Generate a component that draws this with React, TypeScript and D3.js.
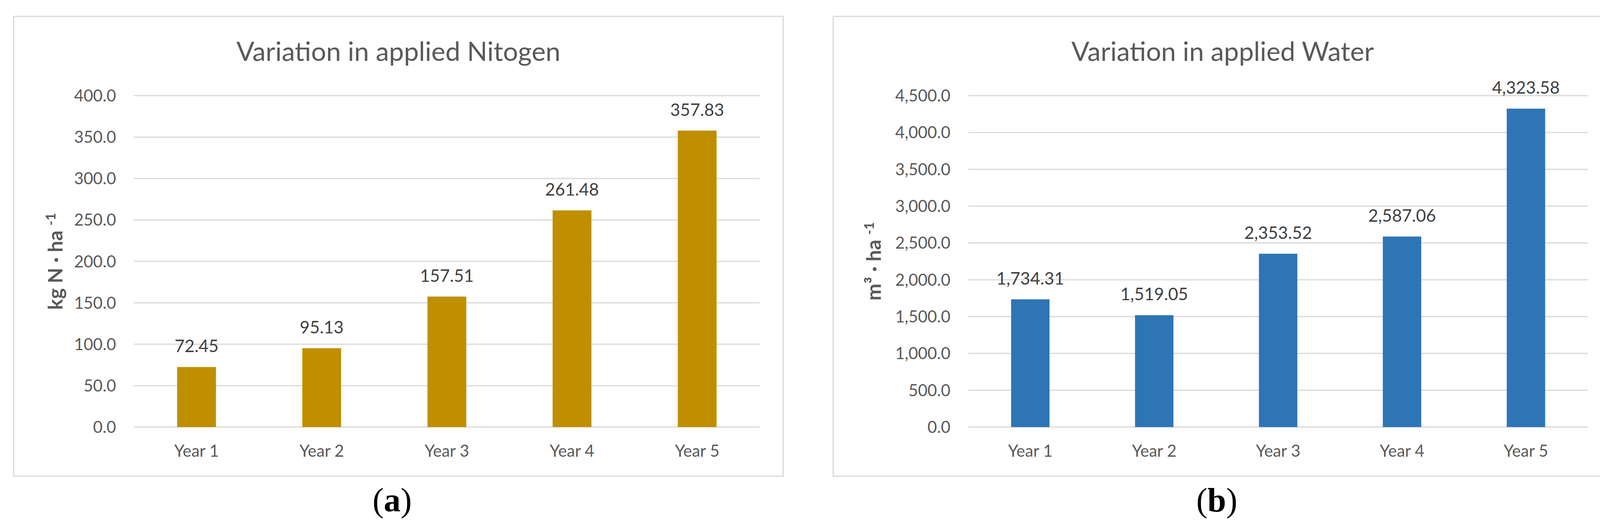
import { useEffect, useRef } from "react";
import * as d3 from "d3";

const W = 4168;
const H = 1350;

const years = ["Year 1", "Year 2", "Year 3", "Year 4", "Year 5"];
const nitrogen = [72.45, 95.13, 157.51, 261.48, 357.83];
const water = [1734.31, 1519.05, 2353.52, 2587.06, 4323.58];
const nitrogenTicks = [0, 50, 100, 150, 200, 250, 300, 350, 400];
const waterTicks = [0, 500, 1000, 1500, 2000, 2500, 3000, 3500, 4000, 4500];

const TEXT = "#595959";
const GRID = "#D9D9D9";
const FONT = "Lato, 'Open Sans', sans-serif";
const SERIF = "'Liberation Serif', 'DejaVu Serif', serif";

interface Panel {
  frame: [number, number];
  plot: [number, number];
  title: string;
  unit: string;
  values: number[];
  ticks: number[];
  color: string;
  tickFmt: (n: number) => string;
  valueFmt: (n: number) => string;
  yTitleX: number;
  caption: string;
  captionX: number;
}

const TOP = 42;
const BOTTOM = 1220;
const PLOT_TOP = 245;
const PLOT_BOTTOM = 1094;

const panels: Panel[] = [
  {
    frame: [35, 2005],
    plot: [343, 1945],
    title: "Variation in applied Nitogen",
    unit: "kg N · ha ",
    values: nitrogen,
    ticks: nitrogenTicks,
    color: "#BF8F00",
    tickFmt: d3.format(".1f"),
    valueFmt: d3.format(".2f"),
    yTitleX: 160,
    caption: "a",
    captionX: 1004,
  },
  {
    frame: [2133, 4127],
    plot: [2479, 4065],
    title: "Variation in applied Water",
    unit: "m³ · ha ",
    values: water,
    ticks: waterTicks,
    color: "#2E75B6",
    tickFmt: d3.format(",.1f"),
    valueFmt: d3.format(",.2f"),
    yTitleX: 2255,
    caption: "b",
    captionX: 3115,
  },
];

function drawPanel(svg: d3.Selection<SVGSVGElement, unknown, null, undefined>, p: Panel) {
  const g = svg.append("g");
  const [fx0, fx1] = p.frame;

  // chart frame
  g.append("rect")
    .attr("x", fx0)
    .attr("y", TOP)
    .attr("width", fx1 - fx0)
    .attr("height", BOTTOM - TOP)
    .attr("fill", "#fff")
    .attr("stroke", GRID)
    .attr("stroke-width", 3);

  const x = d3.scaleBand<string>().domain(years).range(p.plot).paddingInner(0.69).paddingOuter(0.345);
  const y = d3
    .scaleLinear()
    .domain([0, p.ticks[p.ticks.length - 1]])
    .range([PLOT_BOTTOM, PLOT_TOP]);

  // gridlines + tick labels
  g.selectAll(".grid")
    .data(p.ticks)
    .join("line")
    .attr("x1", p.plot[0])
    .attr("x2", p.plot[1])
    .attr("y1", (d) => y(d))
    .attr("y2", (d) => y(d))
    .attr("stroke", GRID)
    .attr("stroke-width", 3);

  g.selectAll(".tick")
    .data(p.ticks)
    .join("text")
    .attr("x", p.plot[0] - 46)
    .attr("y", (d) => y(d))
    .attr("dy", "0.36em")
    .attr("text-anchor", "end")
    .attr("font-family", FONT)
    .attr("font-size", 42)
    .attr("fill", TEXT)
    .text((d) => p.tickFmt(d));

  // bars
  g.selectAll(".bar")
    .data(p.values)
    .join("rect")
    .attr("x", (_, i) => x(years[i])!)
    .attr("width", x.bandwidth())
    .attr("y", (d) => y(d))
    .attr("height", (d) => y(0) - y(d))
    .attr("fill", p.color);

  // value labels
  g.selectAll(".val")
    .data(p.values)
    .join("text")
    .attr("x", (_, i) => x(years[i])! + x.bandwidth() / 2)
    .attr("y", (d) => y(d) - 38)
    .attr("text-anchor", "middle")
    .attr("font-family", FONT)
    .attr("font-size", 44)
    .attr("fill", "#404040")
    .text((d) => p.valueFmt(d));

  // category labels
  g.selectAll(".cat")
    .data(years)
    .join("text")
    .attr("x", (d) => x(d)! + x.bandwidth() / 2)
    .attr("y", 1170)
    .attr("text-anchor", "middle")
    .attr("font-family", FONT)
    .attr("font-size", 42)
    .attr("fill", TEXT)
    .text((d) => d);

  // title
  g.append("text")
    .attr("x", (fx0 + fx1) / 2)
    .attr("y", 156)
    .attr("text-anchor", "middle")
    .attr("font-family", FONT)
    .attr("font-size", 68)
    .attr("fill", TEXT)
    .text(p.title);

  // y axis title
  const yt = g
    .append("text")
    .attr("transform", `translate(${p.yTitleX},${(PLOT_TOP + PLOT_BOTTOM) / 2}) rotate(-90)`)
    .attr("text-anchor", "middle")
    .attr("font-family", FONT)
    .attr("font-size", 52)
    .attr("font-weight", "bold")
    .attr("fill", TEXT)
    .style("white-space", "pre");
  yt.append("tspan").text(p.unit);
  yt.append("tspan").attr("font-size", 34).attr("dy", -18).text("-1");

  // sub-figure caption
  const cap = g
    .append("text")
    .attr("x", p.captionX)
    .attr("y", 1310)
    .attr("text-anchor", "middle")
    .attr("font-family", SERIF)
    .attr("font-size", 86)
    .attr("fill", "#000");
  cap.append("tspan").text("(");
  cap.append("tspan").attr("font-weight", "bold").text(p.caption);
  cap.append("tspan").text(")");
}

export default function App() {
  const ref = useRef<SVGSVGElement | null>(null);

  useEffect(() => {
    const svg = d3.select(ref.current!);
    svg.selectAll("*").remove();
    svg.append("rect").attr("width", W).attr("height", H).attr("fill", "#fff");
    panels.forEach((p) => drawPanel(svg, p));
  }, []);

  return (
    <svg
      ref={ref}
      width={W}
      height={H}
      viewBox={`0 0 ${W} ${H}`}
      style={{ position: "absolute", left: 0, top: 0, display: "block" }}
    />
  );
}
